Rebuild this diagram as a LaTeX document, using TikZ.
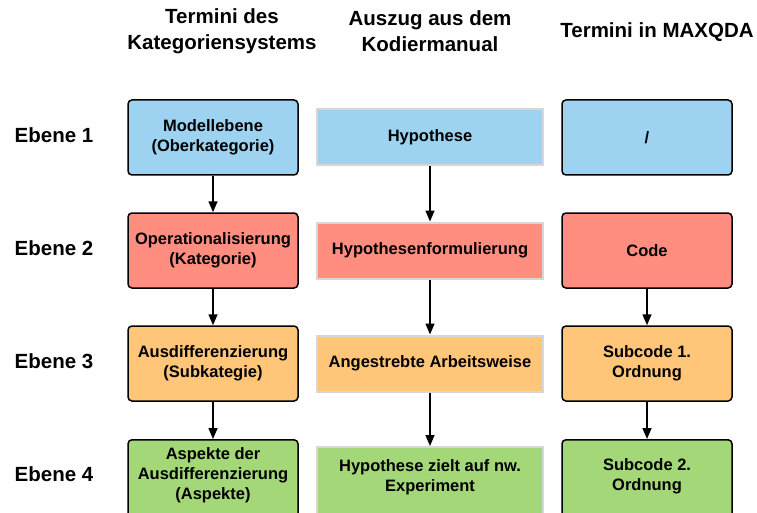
\documentclass[tikz,border=0pt]{standalone}
\usepackage{fontspec}
\setmainfont{Liberation Sans}
\usetikzlibrary{arrows.meta}
\definecolor{cblue}{RGB}{157,210,241}
\definecolor{cred}{RGB}{255,141,128}
\definecolor{corange}{RGB}{255,197,120}
\definecolor{cgreen}{RGB}{164,215,120}
\definecolor{cgray}{RGB}{215,215,215}
\tikzset{
  sidebox/.style={draw=black, line width=1.5pt, rounded corners=4pt, minimum width=170pt, minimum height=75pt, inner sep=0pt, align=center, font=\fontsize{16.5}{20}\selectfont\bfseries},
  midbox/.style={draw=cgray, line width=2pt, minimum width=226pt, minimum height=56pt, inner sep=0pt, align=center, font=\fontsize{16.5}{20}\selectfont\bfseries},
  boxtext/.style={align=center, inner sep=0pt, font=\fontsize{16.5}{20}\selectfont\bfseries},
  headtext/.style={align=center, inner sep=0pt, font=\fontsize{20.5}{26}\selectfont\bfseries},
  rowlabel/.style={inner sep=0pt, font=\fontsize{20.5}{24}\selectfont\bfseries},
  conn/.style={-{Triangle[length=11pt,width=9pt]}, line width=1.5pt}
}
\begin{document}
\begin{tikzpicture}[x=1pt,y=-1pt]
\useasboundingbox (0,0) rectangle (757,513);
\clip (0,0) rectangle (757,513);
% headers
\node[headtext] (h1) at (222,31) {Termini des\\Kategoriensystems};
\node[headtext] (h2) at (430,31) {Auszug aus dem\\Kodiermanual};
\node[headtext] (h3) at (657,32) {Termini in MAXQDA};
% row labels
\node[rowlabel] (e1) at (54,135) {Ebene 1};
\node[rowlabel] (e2) at (54,248) {Ebene 2};
\node[rowlabel] (e3) at (54,361) {Ebene 3};
\node[rowlabel] (e4) at (54,474) {Ebene 4};
% left column
\node[sidebox, fill=cblue] (l1) at (213,137.5) {Modellebene\\(Oberkategorie)};
\node[sidebox, fill=cred] (l2) at (213,250.5) {Operationalisierung\\(Kategorie)};
\node[sidebox, fill=corange] (l3) at (213,363.5) {Ausdifferenzierung\\(Subkategie)};
\node[sidebox, fill=cgreen, anchor=north, minimum height=90pt] (l4) at (213,439) {};
\node[boxtext] (l4t) at (213,475) {Aspekte der\\Ausdifferenzierung\\(Aspekte)};
% middle column
\node[midbox, fill=cblue] (m1) at (430,137) {Hypothese};
\node[midbox, fill=cred] (m2) at (430,250.5) {Hypothesenformulierung};
\node[midbox, fill=corange] (m3) at (430,363.5) {Angestrebte Arbeitsweise};
\node[midbox, fill=cgreen, anchor=north, minimum height=90pt] (m4) at (430,446) {};
\node[boxtext] (m4t) at (430,477) {Hypothese zielt auf nw.\\Experiment};
% right column
\node[sidebox, fill=cblue] (r1) at (647,137.5) {/};
\node[sidebox, fill=cred] (r2) at (647,250.5) {Code};
\node[sidebox, fill=corange] (r3) at (647,363.5) {Subcode 1.\\Ordnung};
\node[sidebox, fill=cgreen, anchor=north, minimum height=90pt] (r4) at (647,439) {};
\node[boxtext] (r4t) at (647,476) {Subcode 2.\\Ordnung};
% connectors
\draw[conn] (l1) -- (l2);
\draw[conn] (l2) -- (l3);
\draw[conn] (l3) -- (l4);
\draw[conn] (m1) -- (m2);
\draw[conn] (m2) -- (m3);
\draw[conn] (m3) -- (m4);
\draw[conn] (r2) -- (r3);
\draw[conn] (r3) -- (r4);
\end{tikzpicture}
\end{document}
